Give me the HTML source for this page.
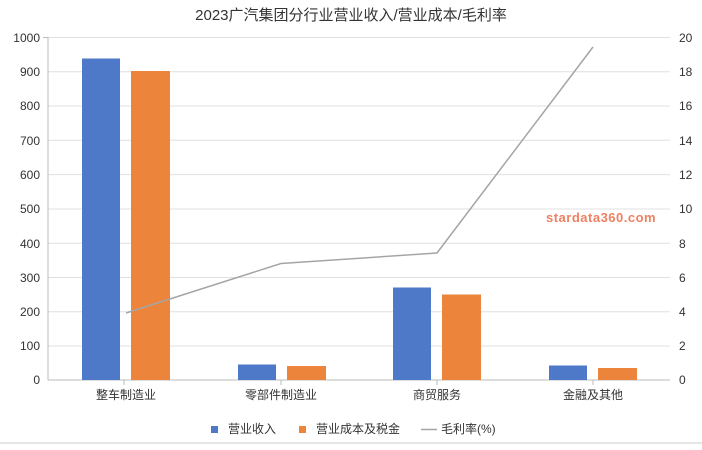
<!DOCTYPE html>
<html><head><meta charset="utf-8"><style>
html,body{margin:0;padding:0;background:#fff;}
text{font-family:"Liberation Sans","Noto Sans CJK SC",sans-serif;}
</style></head><body>
<svg width="702" height="445" viewBox="0 0 702 445" xmlns="http://www.w3.org/2000/svg">
<rect width="702" height="445" fill="#fff"/>
<text x="351" y="20" font-size="15" text-anchor="middle" fill="#333">2023广汽集团分行业营业收入/营业成本/毛利率</text>
<g stroke="#e0e0e0" stroke-width="1">
<line x1="48" y1="37.5" x2="670" y2="37.5"/><line x1="48" y1="71.8" x2="670" y2="71.8"/><line x1="48" y1="106" x2="670" y2="106"/><line x1="48" y1="140.3" x2="670" y2="140.3"/><line x1="48" y1="174.6" x2="670" y2="174.6"/><line x1="48" y1="209" x2="670" y2="209"/><line x1="48" y1="243.2" x2="670" y2="243.2"/><line x1="48" y1="277.5" x2="670" y2="277.5"/><line x1="48" y1="311.8" x2="670" y2="311.8"/><line x1="48" y1="346" x2="670" y2="346"/>
</g>
<line x1="48" y1="37" x2="48" y2="380" stroke="#bbb"/>
<line x1="48" y1="380" x2="670" y2="380" stroke="#bbb"/>
<g stroke="#bbb"><line x1="43" y1="37.5" x2="48" y2="37.5"/><line x1="124" y1="380" x2="124" y2="385"/><line x1="281" y1="380" x2="281" y2="385"/><line x1="437" y1="380" x2="437" y2="385"/><line x1="593" y1="380" x2="593" y2="385"/></g>
<g font-size="12" fill="#333" text-anchor="end">
<text x="40" y="42">1000</text><text x="40" y="76">900</text><text x="40" y="110">800</text><text x="40" y="145">700</text><text x="40" y="179">600</text><text x="40" y="213">500</text><text x="40" y="248">400</text><text x="40" y="282">300</text><text x="40" y="316">200</text><text x="40" y="350">100</text><text x="40" y="384">0</text>
</g>
<g font-size="12" fill="#333" text-anchor="start">
<text x="679" y="42">20</text><text x="679" y="76">18</text><text x="679" y="110">16</text><text x="679" y="145">14</text><text x="679" y="179">12</text><text x="679" y="213">10</text><text x="679" y="248">8</text><text x="679" y="282">6</text><text x="679" y="316">4</text><text x="679" y="350">2</text><text x="679" y="384">0</text>
</g>
<g fill="#4e79c8">
<rect x="82" y="58.5" width="38" height="321.5"/><rect x="238" y="364.5" width="38" height="15.5"/><rect x="393" y="287.5" width="38" height="92.5"/><rect x="549" y="365.5" width="38" height="14.5"/>
</g>
<g fill="#ed843c">
<rect x="131" y="71" width="39" height="309"/><rect x="287" y="366" width="39" height="14"/><rect x="442" y="294.5" width="39" height="85.5"/><rect x="598" y="368" width="39" height="12"/>
</g>
<polyline points="126,313 281,263.5 437,253 593,47" fill="none" stroke="#a5a5a5" stroke-width="1.5"/>
<text x="546" y="222" font-size="13" fill="#f08060" font-weight="bold" letter-spacing="0.5">stardata360.com</text>
<g font-size="12" fill="#333" text-anchor="middle">
<text x="126" y="399">整车制造业</text><text x="281" y="399">零部件制造业</text><text x="437" y="399">商贸服务</text><text x="593" y="399">金融及其他</text>
</g>
<rect x="211" y="426" width="7" height="7" fill="#4e79c8"/>
<text x="228" y="433" font-size="12" fill="#333">营业收入</text>
<rect x="299" y="426" width="7" height="7" fill="#ed843c"/>
<text x="316" y="433" font-size="12" fill="#333">营业成本及税金</text>
<line x1="421" y1="429.5" x2="437" y2="429.5" stroke="#a5a5a5" stroke-width="1.5"/>
<text x="441" y="433" font-size="12" fill="#333">毛利率(%)</text>
<line x1="0" y1="443" x2="702" y2="443" stroke="#ccc"/>
</svg>
</body></html>
